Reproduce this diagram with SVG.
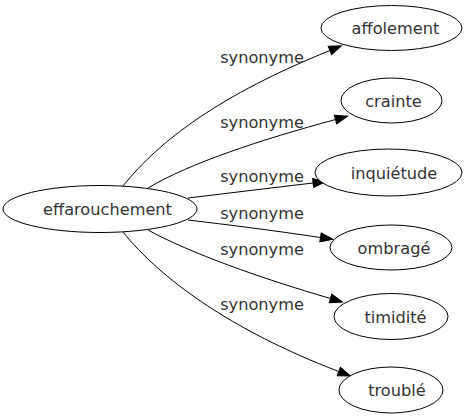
<svg xmlns="http://www.w3.org/2000/svg" width="467" height="419" viewBox="0 0 467 419">
<style>
  .node ellipse { fill: #ffffff; stroke: #000000; stroke-width: 1; }
  .node text { font-family: "DejaVu Sans", "Liberation Sans", sans-serif; font-size: 16.2px; fill: #333333; text-anchor: middle; }
  .edges path { fill: none; stroke: #000000; stroke-width: 1; marker-end: url(#arrow); }
  .edges text { font-family: "DejaVu Sans", "Liberation Sans", sans-serif; font-size: 16.2px; fill: #333333; text-anchor: middle; }
</style>
<defs>
  <marker id="arrow" markerUnits="userSpaceOnUse" markerWidth="14" markerHeight="10" refX="0" refY="5" orient="auto" overflow="visible">
    <path d="M0,0.5 L12.5,5 L0,9.5 Z" fill="#000000" stroke="#000000" stroke-width="1"/>
  </marker>
</defs>
<rect width="467" height="419" fill="#ffffff"/>
<g class="edges" id="edges">
  <path d="M123,186 C160,140 220,95 329.9,50.5"/>
  <text x="262" y="63">synonyme</text>
  <path d="M148,188 C190,163 260,140 335.5,119.5"/>
  <text x="262" y="128">synonyme</text>
  <path d="M188,198 C230,193 270,188 313.1,183"/>
  <text x="262" y="181.5">synonyme</text>
  <path d="M188,220 C230,225 270,230 320.5,237.5"/>
  <text x="262" y="219">synonyme</text>
  <path d="M148,230 C190,253 260,278 330.5,298.5"/>
  <text x="262" y="255">synonyme</text>
  <path d="M123,232 C160,278 230,330 338.8,371.5"/>
  <text x="262" y="309.5">synonyme</text>
</g>
<g class="node" id="node-effarouchement">
  <ellipse cx="100" cy="209" rx="97" ry="23.5"/>
  <text x="107.5" y="215">effarouchement</text>
</g>
<g class="node" id="node-affolement">
  <ellipse cx="391.5" cy="28" rx="70.5" ry="22.5"/>
  <text x="395.5" y="34">affolement</text>
</g>
<g class="node" id="node-crainte">
  <ellipse cx="391.5" cy="100.5" rx="50.5" ry="22.5"/>
  <text x="393.5" y="106.5">crainte</text>
</g>
<g class="node" id="node-inquietude">
  <ellipse cx="388.5" cy="172.5" rx="73.5" ry="23.5"/>
  <text x="394" y="178.5">inquiétude</text>
</g>
<g class="node" id="node-ombrage">
  <ellipse cx="391" cy="247.5" rx="61" ry="22.5"/>
  <text x="394" y="253.5">ombragé</text>
</g>
<g class="node" id="node-timidite">
  <ellipse cx="391" cy="316.5" rx="57" ry="23"/>
  <text x="395.5" y="322.5">timidité</text>
</g>
<g class="node" id="node-trouble">
  <ellipse cx="391" cy="390" rx="52" ry="23"/>
  <text x="397" y="396">troublé</text>
</g>
</svg>
